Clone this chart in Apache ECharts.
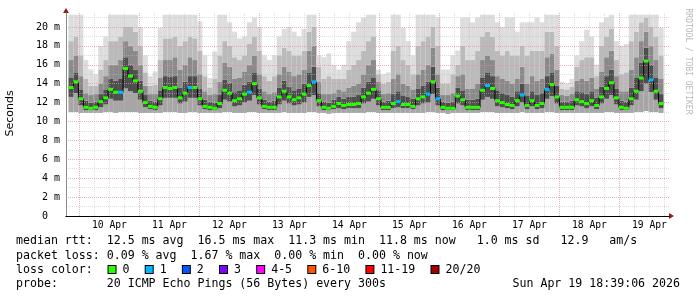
<!DOCTYPE html>
<html><head><meta charset="utf-8">
<script src="https://cdn.jsdelivr.net/npm/echarts@6/dist/echarts.min.js"></script>
<style>html,body{margin:0;padding:0;background:#fff}#c{width:697px;height:297px}</style>
</head><body><div id="c"></div>
<script>
// ---------- data (2-hour bins, Apr 9 18:39 -> Apr 19 18:39) ----------
const dayLabels = ['10 Apr','11 Apr','12 Apr','13 Apr','14 Apr','15 Apr','16 Apr','17 Apr','18 Apr','19 Apr'];
const median = [
 13.6,14.2,12.4,11.5,11.4,11.5,12.1,12.5,13.4,13.1,
 13.1,15.6,14.8,14.3,13.2,12.0,11.6,11.5,12.4,13.6,
 13.5,13.6,12.5,13.0,13.6,13.6,12.4,11.6,11.5,11.4,
 11.9,13.3,13.0,12.2,12.4,12.9,13.1,14.0,12.5,11.6,
 11.5,11.5,12.6,13.2,12.6,12.3,12.5,12.9,13.8,14.2,
 12.2,11.5,11.4,11.6,11.9,11.7,11.8,11.8,11.9,12.6,
 13.0,13.4,12.4,11.5,11.5,11.9,12.1,11.8,11.8,11.6,
 12.4,12.6,12.9,14.2,12.4,11.5,11.4,11.4,12.7,12.3,
 11.5,11.5,11.5,13.3,13.8,13.5,12.2,12.0,11.8,11.7,
 12.2,12.8,11.7,12.2,11.7,11.9,13.4,13.9,12.6,11.5,
 11.5,11.5,12.3,12.1,11.9,12.2,11.7,12.6,13.5,14.1,
 12.5,11.5,11.4,12.4,13.2,14.6,16.4,14.4,13.2,11.9];
const lostPings = [
 0,0,0,0,0,0,0,0,0,0, 1,0,0,0,0,0,0,0,0,0, 0,0,0,0,1,0,0,0,0,0,
 0,0,0,0,0,0,1,0,0,0, 0,0,0,0,0,0,0,0,0,1, 0,0,0,0,0,0,0,0,0,0,
 0,0,0,0,0,0,1,0,0,0, 0,0,1,0,1,0,0,0,0,0, 0,0,0,0,1,0,0,0,0,0,
 0,1,0,0,0,0,1,0,0,0, 0,0,0,0,0,0,0,0,0,0, 0,0,0,0,0,0,0,1,0,0];
const smokeLow = [
 11.0,11.0,10.9,10.9,10.9,10.9,10.9,11.0,11.0,10.9,
 11.0,11.0,11.0,11.0,10.9,10.9,10.9,10.9,10.9,11.0,
 11.0,11.0,10.9,10.9,11.0,11.0,10.9,10.9,10.9,10.9,
 10.9,11.0,11.0,10.9,10.9,10.9,11.0,11.0,10.9,10.9,
 10.9,10.9,10.9,11.0,10.9,10.9,10.9,10.9,11.0,11.0,
 10.9,10.9,10.8,10.9,10.9,10.9,10.9,10.9,10.9,10.9,
 11.0,11.0,10.9,10.9,10.9,10.9,10.9,10.9,10.9,10.9,
 10.9,10.9,11.0,11.0,10.9,10.9,10.8,10.9,10.9,10.9,
 10.9,10.9,10.9,11.0,11.0,11.0,10.9,10.9,10.9,10.9,
 10.9,11.0,10.9,10.9,10.9,10.9,11.0,11.0,10.9,10.9,
 10.9,10.9,10.9,10.9,10.9,10.9,10.9,10.9,11.0,11.0,
 10.9,10.9,10.9,10.9,11.0,11.0,11.1,11.0,11.0,10.9];
const smokeQ1 = [
 12.6,13.0,11.7,11.2,11.2,11.2,11.5,11.8,12.4,12.2,
 12.2,13.5,13.2,13.0,12.3,11.5,11.3,11.2,11.7,12.5,
 12.5,12.5,11.9,12.1,12.5,12.5,11.7,11.3,11.2,11.2,
 11.4,12.3,12.1,11.6,11.7,12.0,12.2,12.8,11.8,11.3,
 11.2,11.2,11.8,12.2,11.9,11.7,11.8,12.0,12.6,12.8,
 11.6,11.2,11.2,11.3,11.4,11.3,11.4,11.4,11.4,11.9,
 12.1,12.4,11.7,11.2,11.2,11.4,11.5,11.4,11.4,11.3,
 11.7,11.9,12.0,12.9,11.7,11.2,11.2,11.2,11.9,11.7,
 11.2,11.2,11.2,12.3,12.6,12.4,11.6,11.5,11.4,11.3,
 11.6,12.0,11.3,11.6,11.3,11.4,12.4,12.7,11.9,11.2,
 11.2,11.2,11.7,11.6,11.4,11.6,11.3,11.9,12.4,12.8,
 11.8,11.2,11.2,11.7,12.3,13.2,14.0,13.1,12.3,11.4];
const smokeQ3 = [
 14.6,15.2,13.4,12.2,12.0,12.1,12.9,13.4,14.5,14.3,
 14.5,16.8,16.0,15.5,14.3,12.8,12.2,12.1,13.3,14.8,
 14.7,14.8,13.6,14.2,14.8,14.8,13.5,12.3,12.1,12.0,
 12.8,14.4,14.1,13.1,13.3,13.9,14.2,15.2,13.5,12.3,
 12.1,12.2,13.6,14.3,13.7,13.3,13.5,14.0,15.2,15.8,
 13.0,12.1,12.0,12.3,12.6,12.4,12.6,12.6,12.8,13.6,
 14.2,14.6,13.3,12.1,12.2,12.9,13.2,12.7,12.6,12.4,
 13.5,13.8,14.2,15.8,13.6,12.1,12.0,12.1,13.6,13.3,
 12.3,12.3,12.4,14.6,15.2,14.8,13.3,13.0,12.8,12.6,
 13.2,14.0,12.7,13.2,12.8,13.0,14.8,15.2,13.8,12.1,
 12.1,12.2,13.2,13.1,12.9,13.2,12.5,13.7,14.8,15.5,
 13.5,12.2,12.1,13.6,14.6,16.2,17.8,16.0,14.6,12.9];
const smokeP70 = [
 16.5,17.0,14.8,13.0,12.8,12.9,14.0,14.8,16.0,16.0,
 16.5,18.5,18.0,17.5,16.0,13.8,12.9,12.9,14.6,16.5,
 16.5,16.8,15.5,16.0,16.8,16.5,15.0,13.2,12.8,12.9,
 14.2,16.2,15.8,14.5,14.6,15.3,16.0,17.0,15.0,13.2,
 12.9,13.1,15.0,15.8,15.3,14.8,15.0,15.5,17.5,18.0,
 14.2,12.9,12.9,13.0,13.4,13.2,13.6,13.8,14.0,15.0,
 16.0,16.5,14.2,12.9,13.0,14.5,15.0,14.0,13.8,13.4,
 15.0,15.5,16.0,17.8,15.0,12.8,12.8,13.0,14.8,15.0,
 13.5,13.5,14.0,16.5,17.0,16.5,14.8,14.5,14.3,14.0,
 14.5,15.8,14.0,14.8,14.3,14.5,16.8,17.2,15.5,12.8,
 12.7,12.9,14.3,14.5,14.3,14.6,13.5,15.3,16.8,17.5,
 14.8,13.2,13.2,15.5,16.8,18.5,19.5,18.0,16.5,14.5];
const smokeP85 = [
 18.5,19.0,17.0,14.5,13.8,13.8,15.5,16.5,18.5,18.5,
 19.0,20.0,20.0,19.5,18.0,15.2,13.8,13.9,16.5,18.8,
 18.8,19.0,18.0,18.5,19.0,18.8,17.5,14.8,13.6,14.5,
 17.0,18.5,18.0,16.8,16.5,17.0,18.2,19.0,17.5,14.8,
 14.3,14.8,17.0,17.8,17.5,17.0,17.0,17.5,19.5,20.0,
 15.8,14.5,14.8,14.5,14.5,14.5,15.5,16.0,16.5,17.5,
 18.5,19.0,15.0,14.0,14.2,17.5,18.0,16.5,16.0,15.0,
 18.0,18.5,19.0,20.0,18.0,14.0,14.0,15.0,16.0,18.0,
 16.5,16.5,17.5,19.0,19.5,19.0,17.5,17.0,17.5,17.0,
 17.0,18.0,17.0,17.5,17.5,17.5,19.5,19.5,18.0,13.5,
 13.4,13.7,15.8,16.5,16.8,16.8,14.8,18.0,19.0,19.8,
 16.5,15.0,15.2,18.5,19.5,20.5,21.0,20.0,19.0,17.0];
const smokeHigh = [
 21.3,21.3,21.3,16.5,15.5,15.0,18.0,19.0,21.3,21.3,
 21.3,21.3,21.3,21.3,20.0,17.0,14.8,15.3,19.9,21.3,
 21.3,21.3,21.3,21.3,21.3,21.3,20.6,17.0,14.6,17.4,
 21.3,21.3,20.5,19.5,18.8,19.0,20.5,21.0,20.0,17.0,
 16.5,17.0,19.0,19.8,20.0,19.5,19.0,19.8,21.3,21.3,
 17.0,16.8,17.2,16.0,15.5,16.0,18.5,19.5,20.5,21.0,
 21.3,21.3,15.5,15.0,15.2,21.3,21.3,19.9,18.5,17.0,
 21.3,21.3,21.3,21.3,21.0,15.5,15.5,17.0,17.5,21.0,
 21.0,20.5,21.0,21.3,21.3,21.3,20.5,20.0,21.0,21.0,
 19.5,20.5,20.5,20.5,21.0,20.5,21.3,21.3,21.3,14.2,
 14.0,14.5,17.0,18.5,19.7,19.0,16.0,20.5,21.0,21.3,
 18.5,18.0,18.2,21.3,21.3,21.3,21.3,21.3,21.3,19.9];
const lossBuckets = ['0','1','2','3','4-5','6-10','11-19','20/20'];
const lossColors = ['#26ff00','#00b8ff','#0059ff','#7e00ff','#ff00ff','#ff5500','#ff0000','#a10000'];
const statsRtt = 'median rtt:  12.5 ms avg  16.5 ms max  11.3 ms min  11.8 ms now   1.0 ms sd   12.9   am/s';
const statsLoss = 'packet loss: 0.09 % avg  1.67 % max  0.00 % min  0.00 % now';
const probeText = 'probe:       20 ICMP Echo Pings (56 Bytes) every 300s';
const stampText = 'Sun Apr 19 18:39:06 2026';

// ---------- layout / style ----------
const T_START = Date.UTC(2026, 3, 9, 18, 39, 0);
const STEP_MS = 2 * 3600 * 1000;
const DAY_MS = 86400000;
const DAY0 = Date.UTC(2026, 3, 10);
const SPAN_DAYS = 10.05;
const xMinDays = (T_START - DAY0) / DAY_MS;
const xMaxDays = xMinDays + SPAN_DAYS;
const Y_MAX = 21.48;
const MONO = '"DejaVu Sans Mono", monospace';
const GRID_MAJOR = 'rgba(235,120,120,0.4)';
const GRID_MINOR = 'rgba(190,190,190,0.5)';
const ARROW = '#8f1d1d';

const times = median.map((_, i) => T_START + (i + 0.5) * STEP_MS);
function bucketOf(n) { return n <= 3 ? n : n <= 5 ? 4 : n <= 10 ? 5 : n < 20 ? 6 : 7; }
function band(top, bottom) { return times.map((t, i) => [t, +(top[i] - bottom[i]).toFixed(3)]); }
function gridLine(color) { return { show: true, showMinLine: false, showMaxLine: false, lineStyle: { color: color, width: 1, type: [1, 1] } }; }
const hidden = { axisLine: { show: false }, axisTick: { show: false }, axisLabel: { show: false }, splitLine: { show: false } };

const smokeBands = [
  { data: times.map((t, i) => [t, smokeLow[i]]), color: 'rgba(0,0,0,0)' },
  { data: band(smokeQ1, smokeLow), color: '#a6a6a6' },
  { data: band(smokeQ3, smokeQ1), color: '#4e4e4e' },
  { data: band(smokeP70, smokeQ3), color: '#8a8a8a' },
  { data: band(smokeP85, smokeP70), color: '#bababa' },
  { data: band(smokeHigh, smokeP85), color: '#dddddd' }
];

const series = smokeBands.map(b => ({
  type: 'bar', stack: 'smoke', xAxisIndex: 0, yAxisIndex: 0, data: b.data,
  barWidth: 5, itemStyle: { color: b.color }, z: 1, silent: true
}));
series.push({
  type: 'line', xAxisIndex: 0, yAxisIndex: 0, data: times.map((t, i) => [t, median[i]]),
  step: 'middle', symbol: 'none', lineStyle: { color: '#000', width: 1 }, z: 4, silent: true
});
series.push({
  type: 'scatter', xAxisIndex: 0, yAxisIndex: 0, data: times.map((t, i) => [t, median[i]]),
  symbol: 'rect', symbolSize: [5, 3], z: 5, silent: true,
  itemStyle: { color: p => lossColors[bucketOf(lostPings[p.dataIndex])], opacity: 1 }
});

const rich = {
  t: { fontFamily: MONO, fontSize: 11.6, fill: '#000' },
  s: { width: 1.8, fontFamily: MONO, fontSize: 11.6 },
  g: { width: 16.2, fontFamily: MONO, fontSize: 11.6 }
};
lossColors.forEach((c, k) => {
  rich['b' + k] = { width: 7, height: 7, backgroundColor: c, borderColor: '#000', borderWidth: 1, verticalAlign: 'middle', fontSize: 11.6 };
});
const lossRow = '{t|loss color:  }{s| }' + lossBuckets.map((lbl, k) => '{b' + k + '| }{t| ' + lbl + '}').join('{g| }');
const legendFont = '11.6px ' + MONO;

const chart = echarts.init(document.getElementById('c'), null, { renderer: 'canvas' });
chart.setOption({
  animation: false,
  backgroundColor: '#fff',
  grid: { left: 66, top: 13, width: 603, height: 203, containLabel: false },
  xAxis: [
    Object.assign({ type: 'time', position: 'bottom', min: T_START, max: T_START + SPAN_DAYS * DAY_MS, show: false }, hidden),
    { type: 'value', position: 'bottom', min: xMinDays, max: xMaxDays, minInterval: 0.25, maxInterval: 0.25, z: 2,
      axisLine: { show: true, onZero: false, lineStyle: { color: '#000', width: 1 } },
      axisTick: { show: false },
      axisLabel: { margin: 4, fontFamily: MONO, fontSize: 9.7, color: '#000',
        formatter: v => { const d = Math.floor(v + 1e-9); return Math.abs(v - d - 0.5) < 1e-6 && dayLabels[d] ? dayLabels[d] : ''; } },
      splitLine: gridLine(GRID_MINOR) },
    Object.assign({ type: 'value', position: 'bottom', min: xMinDays, max: xMaxDays, minInterval: 1, maxInterval: 1, z: 3 }, hidden, { splitLine: gridLine(GRID_MAJOR) }),
    Object.assign({ type: 'value', position: 'bottom', min: xMinDays, max: xMaxDays, z: 1 }, hidden,
      { axisLine: { show: true, onZero: false, symbol: ['none', 'triangle'], symbolSize: [6, 5], symbolOffset: [0, 2.5], lineStyle: { color: ARROW, width: 1 } } })
  ],
  yAxis: [
    { type: 'value', position: 'left', min: 0, max: Y_MAX, interval: 1, z: 2,
      axisLine: { show: true, onZero: false, lineStyle: { color: '#8c8c8c', width: 1 } },
      axisTick: { show: false },
      axisLabel: { margin: 6, fontFamily: MONO, fontSize: 10, color: '#000',
        formatter: v => (Math.abs(v - Math.round(v)) < 1e-9 && Math.round(v) % 2 === 0 && v <= 20) ? (v === 0 ? '0\u00a0\u00a0' : v + ' m') : '' },
      splitLine: gridLine(GRID_MINOR) },
    Object.assign({ type: 'value', position: 'left', min: 0, max: Y_MAX, interval: 2, z: 3 }, hidden, { splitLine: gridLine(GRID_MAJOR) }),
    Object.assign({ type: 'value', position: 'left', min: 0, max: Y_MAX, z: 1 }, hidden,
      { axisLine: { show: true, onZero: false, symbol: ['none', 'triangle'], symbolSize: [6, 5], symbolOffset: [0, 2.5], lineStyle: { color: ARROW, width: 1 } } })
  ],
  graphic: [
    { type: 'text', x: 10.5, y: 113.5, rotation: Math.PI / 2, style: { text: 'Seconds', font: '11px "DejaVu Sans", sans-serif', fill: '#000', align: 'center', verticalAlign: 'middle' } },
    { type: 'text', x: 688, y: 61.5, rotation: -Math.PI / 2, style: { text: 'RRDTOOL / TOBI OETIKER', font: '8px ' + MONO, fill: '#b8b8b8', align: 'center', verticalAlign: 'middle' } },
    { type: 'text', x: 16, y: 241, style: { text: statsRtt, font: legendFont, fill: '#000', verticalAlign: 'middle' } },
    { type: 'text', x: 16, y: 255.5, style: { text: statsLoss, font: legendFont, fill: '#000', verticalAlign: 'middle' } },
    { type: 'text', x: 16, y: 269.5, style: { text: lossRow, rich: rich, font: legendFont, fill: '#000', verticalAlign: 'middle' } },
    { type: 'text', x: 16, y: 284, style: { text: probeText, font: legendFont, fill: '#000', verticalAlign: 'middle' } },
    { type: 'text', x: 680, y: 284, style: { text: stampText, font: legendFont, fill: '#000', align: 'right', verticalAlign: 'middle' } }
  ],
  series: series
});
</script>
</body></html>
